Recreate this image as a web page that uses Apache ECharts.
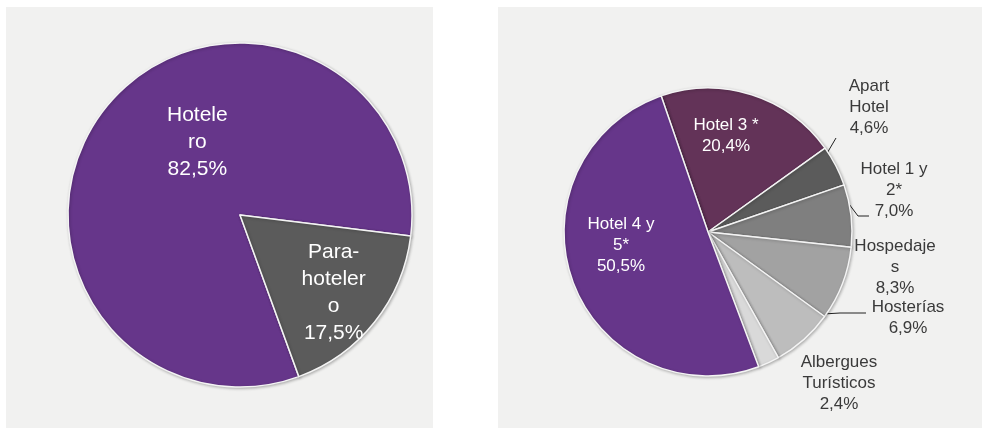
<!DOCTYPE html>
<html>
<head>
<meta charset="utf-8">
<script src="https://cdn.jsdelivr.net/npm/echarts@6/dist/echarts.min.js"></script>
<style>
  html, body { margin: 0; padding: 0; background: #ffffff; }
  #chart { width: 982px; height: 430px; }
</style>
</head>
<body>
<div id="chart"></div>
<script>
// datos
var tipoNombres = ['Hotelero', 'Parahotelero'];
var tipoEtiquetas = ['Hotele\nro', 'Para-\nhoteler\no'];
var tipoValores = [82.5, 17.5];

var catNombres = ['Hotel 3 *', 'Apart Hotel', 'Hotel 1 y 2*', 'Hospedajes', 'Hosterías', 'Albergues Turísticos', 'Hotel 4 y 5*'];
var catEtiquetas = ['Hotel 3 *', 'Apart\nHotel', 'Hotel 1 y\n2*', 'Hospedaje\ns', 'Hosterías', 'Albergues\nTurísticos', 'Hotel 4 y\n5*'];
var catValores = [20.4, 4.6, 7.0, 8.3, 6.9, 2.4, 50.5];

var tipoColores = ['#66368a', '#5b5b5b'];
var catColores = ['#633358', '#5b5b5b', '#7f7f7f', '#a2a2a2', '#bdbdbd', '#d9d9d9', '#66368a'];

function pct(v) {
  return v.toFixed(1).replace('.', ',') + '%';
}

// posiciones de las etiquetas de la derecha (centro del texto)
var posCat = [
  [726, 136], [869, 107], [894, 190], [895, 267], [908, 318], [839, 383], [621, 245]
];
var lineaCat = [
  null,
  [[826, 155], [836, 138], [836, 138]],
  [[849, 204], [858, 216], [869, 216]],
  null,
  [[823, 314], [840, 313], [866, 313]],
  null,
  null
];

var chart = echarts.init(document.getElementById('chart'));

var option = {
  backgroundColor: '#ffffff',
  animation: false,
  graphic: [
    { type: 'rect', z: -10, shape: { x: 6, y: 7, width: 427, height: 421 }, style: { fill: '#f1f1f0' } },
    { type: 'rect', z: -10, shape: { x: 498, y: 7, width: 484, height: 421 }, style: { fill: '#f1f1f0' } }
  ],
  series: [
    {
      type: 'pie',
      center: [240, 215],
      radius: 172,
      startAngle: -70,
      clockwise: true,
      itemStyle: {
        borderColor: '#f4f4f4',
        borderWidth: 1.5,
        shadowBlur: 3,
        shadowColor: 'rgba(0,0,0,0.25)',
        shadowOffsetX: 1,
        shadowOffsetY: 1
      },
      label: {
        show: true,
        position: 'inside',
        color: '#ffffff',
        fontFamily: 'Liberation Sans, Arial, sans-serif',
        fontSize: 21,
        lineHeight: 27,
        align: 'center',
        formatter: function (p) {
          return tipoEtiquetas[p.dataIndex] + '\n' + pct(p.value);
        }
      },
      labelLine: { show: false },
      data: tipoNombres.map(function (n, i) {
        return {
          name: n,
          value: tipoValores[i],
          itemStyle: { color: tipoColores[i] },
          label: { offset: i === 0 ? [27, -17] : [24, 22] }
        };
      })
    },
    {
      type: 'pie',
      center: [708, 232],
      radius: 144,
      startAngle: 109,
      clockwise: true,
      itemStyle: {
        borderColor: '#f4f4f4',
        borderWidth: 1.5,
        shadowBlur: 3,
        shadowColor: 'rgba(0,0,0,0.25)',
        shadowOffsetX: 1,
        shadowOffsetY: 1
      },
      label: {
        show: true,
        position: 'outside',
        overflow: 'none',
        width: 120,
        color: '#3a3a3a',
        fontFamily: 'Liberation Sans, Arial, sans-serif',
        fontSize: 17,
        lineHeight: 21,
        align: 'center',
        formatter: function (p) {
          return catEtiquetas[p.dataIndex] + '\n' + pct(p.value);
        }
      },
      labelLine: { show: true, lineStyle: { color: '#222222', width: 1 } },
      labelLayout: function (params) {
        var i = params.dataIndex;
        var r = { x: posCat[i][0], y: posCat[i][1], align: 'center', verticalAlign: 'middle' };
        if (lineaCat[i]) r.labelLinePoints = lineaCat[i];
        return r;
      },
      data: catNombres.map(function (n, i) {
        var d = {
          name: n,
          value: catValores[i],
          itemStyle: { color: catColores[i] }
        };
        if (i === 0 || i === 6) {
          d.label = { color: '#ffffff' };
        }
        if (!lineaCat[i]) {
          d.labelLine = { show: false };
        }
        return d;
      })
    }
  ]
};

chart.setOption(option);
</script>
</body>
</html>
